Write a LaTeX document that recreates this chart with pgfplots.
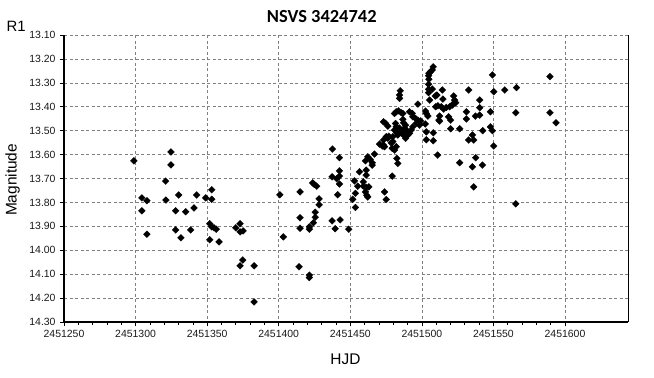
\documentclass[border=0pt]{standalone}
\usepackage{pgfplots}
\pgfplotsset{compat=1.18}
\usepackage{pgfplotstable}
\usepackage{fontspec}
\setmainfont{Liberation Sans}
\newfontfamily\titlefont{Carlito}

\pgfplotstableread{
hjd mag
2451298.8 13.626
2451324.7 13.589
2451324.7 13.643
2451321.0 13.711
2451304.4 13.781
2451307.9 13.793
2451321.2 13.790
2451330.1 13.769
2451342.7 13.769
2451349.0 13.781
2451353.2 13.747
2451353.2 13.787
2451304.4 13.835
2451328.0 13.835
2451335.0 13.839
2451340.8 13.823
2451307.9 13.933
2451328.0 13.915
2451331.7 13.948
2451338.5 13.915
2451351.8 13.889
2451353.2 13.902
2451354.8 13.906
2451356.4 13.912
2451351.8 13.956
2451358.3 13.965
2451370.0 13.906
2451373.0 13.889
2451373.0 13.923
2451375.1 13.919
2451374.9 14.041
2451373.0 14.065
2451382.8 14.065
2451382.8 14.216
2451400.8 13.768
2451403.2 13.944
2451414.9 13.756
2451414.9 13.864
2451414.9 13.908
2451414.2 14.069
2451421.4 13.902
2451421.4 13.912
2451421.4 14.104
2451421.4 14.114
2451424.2 13.885
2451425.5 13.862
2451425.5 13.841
2451428.2 13.785
2451428.2 13.810
2451423.7 13.718
2451424.9 13.725
2451426.5 13.732
2451437.3 13.877
2451439.4 13.910
2451442.9 13.873
2451441.2 13.768
2451437.3 13.693
2451440.5 13.701
2451442.4 13.690
2451442.4 13.668
2451442.4 13.723
2451442.4 13.613
2451437.5 13.577
2451448.9 13.912
2451451.7 13.787
2451453.6 13.821
2451453.6 13.762
2451452.9 13.710
2451456.4 13.672
2451459.1 13.714
2451459.1 13.732
2451461.1 13.737
2451462.9 13.735
2451455.2 13.732
2451460.6 13.756
2451461.5 13.770
2451462.2 13.777
2451461.1 13.665
2451461.1 13.686
2451460.6 13.626
2451462.2 13.609
2451463.9 13.620
2451465.3 13.634
2451465.3 13.644
2451466.9 13.598
2451470.4 13.556
2451472.3 13.564
2451473.9 13.567
2451475.1 13.525
2451476.9 13.523
2451479.7 13.525
2451479.7 13.546
2451482.1 13.505
2451483.2 13.518
2451479.3 13.574
2451480.9 13.581
2451482.1 13.567
2451482.5 13.616
2451483.2 13.637
2451479.3 13.690
2451473.9 13.756
2451475.1 13.788
2451473.2 13.463
2451474.6 13.469
2451476.2 13.481
2451473.2 13.539
2451473.2 13.560
2451478.6 13.551
2451476.2 13.532
2451481.6 13.470
2451482.1 13.484
2451480.9 13.497
2451484.3 13.489
2451485.7 13.510
2451484.9 13.333
2451484.4 13.351
2451484.4 13.365
2451497.2 13.389
2451482.1 13.421
2451483.7 13.417
2451485.6 13.425
2451486.7 13.428
2451480.9 13.428
2451491.4 13.421
2451493.3 13.428
2451486.7 13.453
2451487.2 13.467
2451488.6 13.477
2451487.9 13.490
2451489.1 13.497
2451486.7 13.505
2451487.2 13.518
2451488.6 13.532
2451493.7 13.442
2451495.6 13.449
2451497.2 13.456
2451497.9 13.467
2451496.1 13.469
2451493.7 13.484
2451492.6 13.497
2451491.4 13.511
2451490.2 13.518
2451498.4 13.477
2451507.9 13.233
2451507.3 13.246
2451506.1 13.253
2451504.9 13.260
2451504.7 13.270
2451504.9 13.285
2451504.7 13.306
2451504.7 13.327
2451504.7 13.341
2451507.3 13.326
2451505.4 13.372
2451502.6 13.418
2451504.2 13.439
2451503.1 13.428
2451499.1 13.459
2451502.4 13.472
2451503.1 13.505
2451503.1 13.538
2451508.0 13.509
2451508.0 13.542
2451511.0 13.602
2451509.4 13.355
2451514.3 13.330
2451514.7 13.368
2451509.6 13.400
2451511.2 13.396
2451513.6 13.400
2451515.2 13.410
2451517.1 13.403
2451519.4 13.400
2451521.3 13.393
2451522.2 13.355
2451522.9 13.372
2451523.6 13.383
2451521.7 13.389
2451512.4 13.439
2451512.4 13.460
2451518.7 13.442
2451520.1 13.456
2451520.1 13.492
2451526.4 13.492
2451532.7 13.330
2451531.1 13.421
2451531.1 13.451
2451537.4 13.439
2451540.4 13.435
2451540.4 13.372
2451540.4 13.404
2451542.5 13.500
2451547.9 13.421
2451547.9 13.484
2451549.3 13.500
2451535.3 13.518
2451532.7 13.539
2451536.2 13.539
2451549.3 13.267
2451550.2 13.337
2451550.2 13.564
2451557.9 13.330
2451566.1 13.320
2451565.6 13.425
2451565.6 13.806
2451537.6 13.613
2451526.4 13.634
2451535.3 13.651
2451542.3 13.644
2451536.2 13.735
2451589.5 13.274
2451589.5 13.425
2451593.7 13.467
2451510.5 13.351
2451511.9 13.456
}\datatable

\begin{document}
\begin{tikzpicture}
\begin{axis}[
  at={(0,0)}, anchor=south west,
  scale only axis, width=564bp, height=287bp,
  xmin=2451250, xmax=2451644,
  ymin=13.1, ymax=14.3, y dir=reverse,
  scaled ticks=false,
  xtick={2451250,2451300,2451350,2451400,2451450,2451500,2451550,2451600},
  xticklabels={2451250,2451300,2451350,2451400,2451450,2451500,2451550,2451600},
  minor x tick num=4,
  ytick={13.1,13.2,13.3,13.4,13.5,13.6,13.7,13.8,13.9,14.0,14.1,14.2,14.3},
  yticklabels={13.10,13.20,13.30,13.40,13.50,13.60,13.70,13.80,13.90,14.00,14.10,14.20,14.30},
  ticklabel style={font=\fontsize{10.5}{12}\selectfont, text=black!90},
  xticklabel style={yshift=-1bp},
  yticklabel style={xshift=-1bp},
  axis x line*=bottom, axis y line*=left,
  axis line style={line width=1.6bp, -},
  tick align=outside,
  major tick length=4bp, minor tick length=2.5bp,
  tick style={black, line width=0.6bp},
  grid=major,
  major grid style={gray, dashed, line width=0.6bp, dash pattern=on 3bp off 2.5bp},
  clip=false,
]
\addplot[only marks, mark=square*, mark size=2.45bp, black, mark options={rotate=45, line width=0.2bp}] table[x=hjd, y=mag] {\datatable};
\draw[black, line width=0.8bp] (rel axis cs:1,0) -- (rel axis cs:1,1);
\node[font=\fontsize{15.5}{18}\selectfont] at (axis description cs:0.499,-0.129) {HJD};
\node[font=\fontsize{15.5}{18}\selectfont, rotate=90] at (axis description cs:-0.0913,0.495) {Magnitude};
\node[font=\fontsize{15}{18}\selectfont] at (axis description cs:-0.085,1.029) {R1};
\node[font=\titlefont\bfseries\fontsize{18.5}{22}\selectfont] at (axis description cs:0.457,1.066) {NSVS 3424742};
\end{axis}
\pgfresetboundingbox
\path (-64bp,-56bp) rectangle (590bp,322bp);
\end{tikzpicture}
\end{document}
